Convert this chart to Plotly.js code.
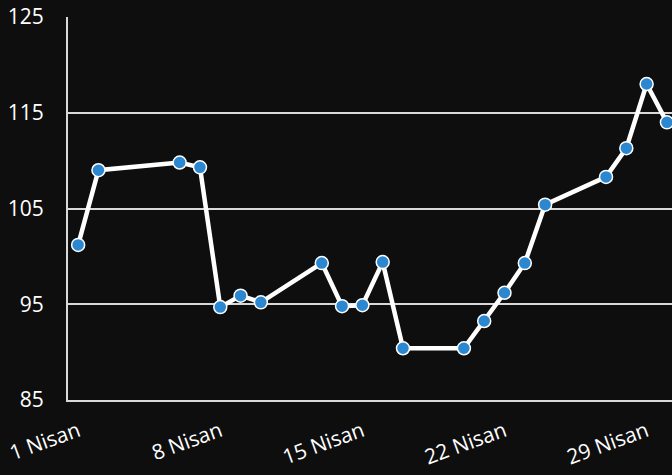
<!DOCTYPE html>
<html>
<head>
<meta charset="utf-8">
<script src="https://cdn.plot.ly/plotly-3.0.1.min.js"></script>
<style>
  html, body { margin: 0; padding: 0; background: #0e0e0e; }
  #chart { width: 672px; height: 475px; }
</style>
</head>
<body>
<div id="chart"></div>
<script>
// -------- DATA --------
const dates = [
  '2024-04-01', '2024-04-02', '2024-04-06', '2024-04-07', '2024-04-08',
  '2024-04-09', '2024-04-10', '2024-04-13', '2024-04-14', '2024-04-15',
  '2024-04-16', '2024-04-17', '2024-04-20', '2024-04-21', '2024-04-22',
  '2024-04-23', '2024-04-24', '2024-04-27', '2024-04-28', '2024-04-29',
  '2024-04-30'
];
const values = [
  101.2, 109.0, 109.8, 109.3, 94.7,
  95.9, 95.2, 99.3, 94.8, 94.9,
  99.4, 90.4, 90.4, 93.25, 96.2,
  99.3, 105.4, 108.3, 111.3, 118.0,
  114.0
];
const tickDates = ['2024-04-01', '2024-04-08', '2024-04-15', '2024-04-22', '2024-04-29'];
const tickLabels = ['1 Nisan', '8 Nisan', '15 Nisan', '22 Nisan', '29 Nisan'];
const yTicks = [85, 95, 105, 115, 125];

// -------- TRACE --------
const trace = {
  x: dates,
  y: values,
  type: 'scatter',
  mode: 'lines+markers',
  line: { color: '#ffffff', width: 4.5 },
  marker: { size: 13, color: '#2a87d0', line: { color: '#ffffff', width: 1.5 } },
  cliponaxis: false,
  hoverinfo: 'x+y'
};

// -------- LAYOUT --------
const font = { family: 'Open Sans, Lato, sans-serif', size: 21, color: '#ffffff' };
const layout = {
  width: 672,
  height: 475,
  margin: { l: 68, r: 0, t: 17, b: 75 },
  paper_bgcolor: '#0e0e0e',
  plot_bgcolor: '#0e0e0e',
  font: font,
  showlegend: false,
  xaxis: {
    type: 'date',
    range: ['2024-03-31 12:00', '2024-04-30 06:00'],
    tickvals: tickDates,
    ticktext: tickLabels,
    tickangle: -20,
    showgrid: false,
    zeroline: false,
    showline: true,
    linecolor: '#d9d9d9',
    linewidth: 2,
    ticks: '',
    ticklabelstandoff: 9,
    tickfont: font
  },
  yaxis: {
    range: [85, 125],
    tickvals: yTicks,
    showgrid: true,
    gridcolor: '#d9d9d9',
    gridwidth: 2,
    zeroline: false,
    showline: true,
    linecolor: '#d9d9d9',
    linewidth: 2,
    ticks: '',
    ticklabelstandoff: 18,
    tickfont: font
  }
};

Plotly.newPlot('chart', [trace], layout, { displayModeBar: false, staticPlot: true });
</script>
</body>
</html>
